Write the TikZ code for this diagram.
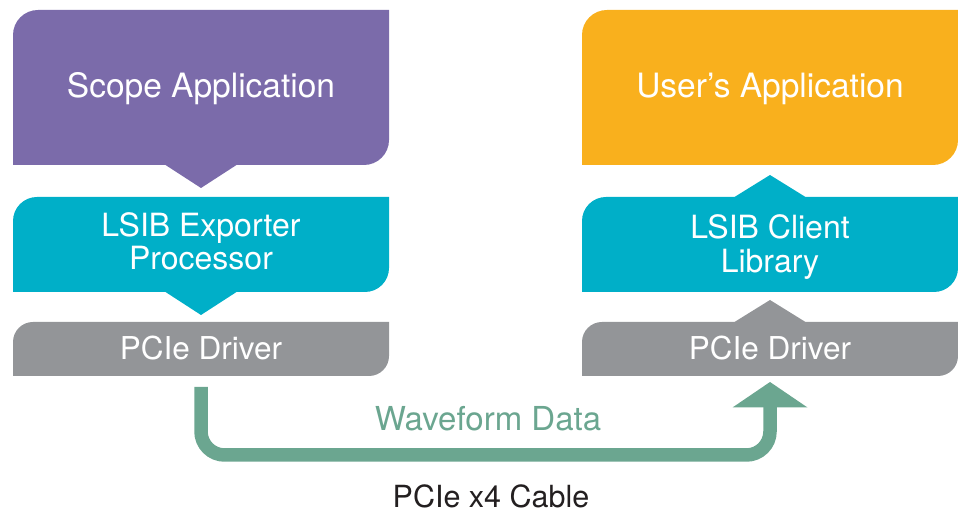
\documentclass[tikz,border=0pt]{standalone}
\usepackage{fontspec}
\setmainfont{TeX Gyre Heros}
\usetikzlibrary{calc}
\definecolor{cpurple}{RGB}{123,107,170}
\definecolor{cteal}{RGB}{0,175,200}
\definecolor{cgray}{RGB}{147,149,152}
\definecolor{corange}{RGB}{249,176,29}
\definecolor{cgreen}{RGB}{107,166,144}
\definecolor{cdark}{RGB}{35,31,32}
\begin{document}
\begin{tikzpicture}[x=1pt,y=1pt,
  lbl/.style={text=white, inner sep=0pt, anchor=base, align=center},
  caption/.style={inner sep=0pt, anchor=base},
  wave/.style={draw=cgreen, line width=13.5pt, line cap=butt}]
\useasboundingbox (0,0) rectangle (958,516);

% left column
\fill[cpurple] (13,351) -- (13,481) arc[start angle=180,end angle=90,radius=25] -- (389,506) -- (389,376) arc[start angle=0,end angle=-90,radius=25] -- (236.5,351) -- (201,328) -- (165.5,351) -- cycle;
\fill[cteal] (13,224) -- (13,295) arc[start angle=180,end angle=90,radius=24] -- (389,319) -- (389,248) arc[start angle=0,end angle=-90,radius=24] -- (236.5,224) -- (201,201) -- (165.5,224) -- cycle;
\fill[cgray] (13,140) -- (13,174) arc[start angle=180,end angle=90,radius=20] -- (389,194) -- (389,160) arc[start angle=0,end angle=-90,radius=20] -- cycle;

% right column
\fill[corange] (582,351) -- (582,481) arc[start angle=180,end angle=90,radius=25] -- (958,506) -- (958,376) arc[start angle=0,end angle=-90,radius=25] -- cycle;
\fill[cteal] (582,224) -- (582,295) arc[start angle=180,end angle=90,radius=24] -- (734.5,319) -- (770,341) -- (805.5,319) -- (958,319) -- (958,248) arc[start angle=0,end angle=-90,radius=24] -- cycle;
\fill[cgray] (582,140) -- (582,174) arc[start angle=180,end angle=90,radius=20] -- (734.5,194) -- (770,216) -- (805.5,194) -- (958,194) -- (958,160) arc[start angle=0,end angle=-90,radius=20] -- cycle;

% labels
\node[lbl, font=\fontsize{33.5}{33}\selectfont] (scope) at (201,418) {Scope Application};
\node[lbl, font=\fontsize{33.5}{33}\selectfont] (user) at (770,418) {User’s Application};
\node[lbl, font=\fontsize{32}{33}\selectfont] (exp) at (201,246) {LSIB Exporter\\Processor};
\node[lbl, font=\fontsize{32}{34}\selectfont] (cli) at (770,243) {LSIB Client\\Library};
\node[lbl, font=\fontsize{31.5}{33}\selectfont] (drvL) at (201,156) {PCIe Driver};
\node[lbl, font=\fontsize{31.5}{33}\selectfont] (drvR) at (770,156) {PCIe Driver};
\node[caption, text=cgreen, font=\fontsize{33}{33}\selectfont] (wf) at (488,85) {Waveform Data};
\node[caption, text=cdark, font=\fontsize{30.5}{33}\selectfont] (cable) at (491,8) {PCIe x4 Cable};

% connector
\coordinate (ws) at ($(drvL.base)+(0,-27)$);
\coordinate (we) at ($(drvR.base)+(0,-47)$);
\coordinate (wb) at (0,61);
\draw[wave, rounded corners=23.5] (ws) -- (ws |- wb) -- (we |- wb) -- (we);
\fill[cgreen] ($(we)+(-37.5,-0.5)$) -- ($(we)+(0,25)$) -- ($(we)+(37.5,-0.5)$) -- cycle;
\end{tikzpicture}
\end{document}
